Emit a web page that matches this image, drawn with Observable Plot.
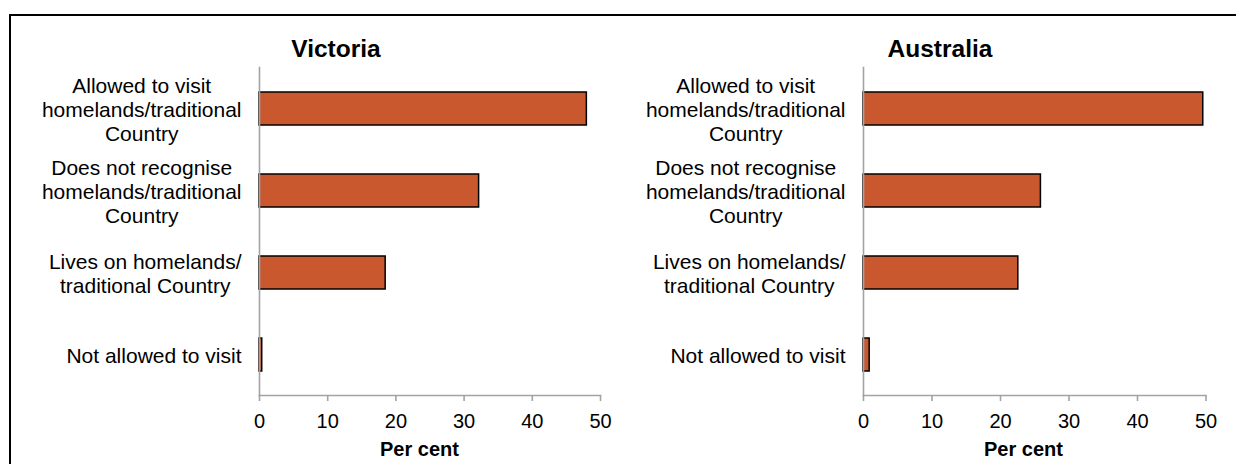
<!DOCTYPE html>
<html>
<head>
<meta charset="utf-8">
<script src="https://cdn.jsdelivr.net/npm/d3@7"></script>
<script src="https://cdn.jsdelivr.net/npm/@observablehq/plot@0.6"></script>
<style>
  html, body { margin: 0; padding: 0; background: #fff; }
  #wrap { position: relative; width: 1236px; height: 464px; overflow: hidden; background: #fff; }
  #border { position: absolute; left: 9px; top: 14px; width: 1300px; height: 500px;
            border-left: 2px solid #000; border-top: 2px solid #000; box-sizing: border-box; }
  .panel { position: absolute; top: 0; }
</style>
</head>
<body>
<div id="wrap">
  <div id="border"></div>
  <div id="p1" class="panel" style="left:0px"></div>
  <div id="p2" class="panel" style="left:618px"></div>
</div>
<script>
// ---- data ----
const categories = [
  "Allowed to visit homelands/traditional Country",
  "Does not recognise homelands/traditional Country",
  "Lives on homelands/traditional Country",
  "Not allowed to visit"
];
const categoryLabels = [
  "Allowed to visit\nhomelands/traditional\nCountry",
  "Does not recognise\nhomelands/traditional\nCountry",
  "Lives on homelands/\ntraditional Country",
  "Not allowed to visit"
];
const victoria = [48.0, 32.2, 18.5, 0.4];
const australia = [49.6, 25.9, 22.6, 0.9];
const xTicks = [0, 10, 20, 30, 40, 50];
const panelTitles = ["Victoria", "Australia"];
const axisTitle = "Per cent";

// ---- drawing ----
const FONT = "'Liberation Sans', Arial, Helvetica, sans-serif";
const LABEL_SIZE = 21;
const ctx = document.createElement("canvas").getContext("2d");
ctx.font = `${LABEL_SIZE}px ${FONT}`;
function blockWidth(label) {
  return d3.max(label.split("\n"), s => ctx.measureText(s).width);
}

function panel(values, title, marginLeft, marginRight) {
  const rows = categories.map((c, i) => ({category: c, label: categoryLabels[i], value: values[i]}));
  const labelMarks = rows.map(r => Plot.text([r], {
    y: "category",
    text: "label",
    frameAnchor: "left",
    dx: -(18 + blockWidth(r.label) / 2),
    textAnchor: "middle",
    lineAnchor: "middle",
    lineHeight: 24 / LABEL_SIZE,
    fontSize: LABEL_SIZE,
    fill: "black"
  }));
  return Plot.plot({
    width: 618,
    height: 464,
    marginLeft,
    marginRight,
    marginTop: 67,
    marginBottom: 69,
    style: {fontFamily: FONT, color: "black", background: "transparent", overflow: "visible"},
    x: {domain: [0, 50], axis: null},
    y: {domain: categories, paddingInner: 0.6, paddingOuter: 0.3, axis: null},
    marks: [
      Plot.barX(rows, {y: "category", x: "value", fill: "#C9582F", stroke: "#000", strokeWidth: 1.5}),
      Plot.frame({anchor: "left", stroke: "#a3a3a3", strokeWidth: 1.6}),
      Plot.frame({anchor: "bottom", stroke: "#a3a3a3", strokeWidth: 1.6}),
      Plot.axisX({ticks: xTicks, tickSize: 6, tickPadding: 12, stroke: "#a3a3a3", strokeWidth: 1.6,
                  fill: "black", fontSize: 20, label: null}),
      ...labelMarks,
      Plot.text([title], {frameAnchor: "top-left", dx: 76.5, dy: -28, textAnchor: "middle",
                          fontSize: 24.5, fontWeight: "bold", fill: "black"}),
      Plot.text([axisTitle], {frameAnchor: "bottom-left", dx: 160, dy: 60, textAnchor: "middle",
                              fontSize: 20, fontWeight: "bold", fill: "black"})
    ]
  });
}

document.getElementById("p1").append(panel(victoria, panelTitles[0], 259, 18));
document.getElementById("p2").append(panel(australia, panelTitles[1], 245, 30.5));
</script>
</body>
</html>
